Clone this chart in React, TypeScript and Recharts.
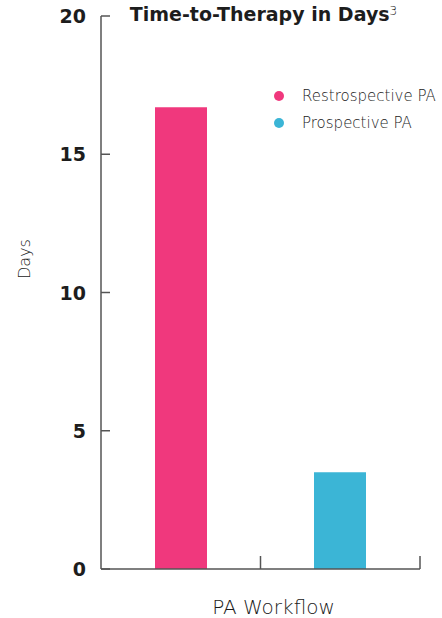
import { BarChart, Bar, XAxis, YAxis, Legend } from "recharts";

const categories = ["PA Workflow"];
const retrospective = [16.7];
const prospective = [3.5];
const yTicks = [0, 5, 10, 15, 20];

const seriesNames = { retro: "Restrospective PA", pro: "Prospective PA" };
const colors = { retro: "#F0387D", pro: "#3BB5D6" };
const legendOrder = [seriesNames.retro, seriesNames.pro];

const data = categories.map((name, i) => ({
  name,
  retro: retrospective[i],
  pro: prospective[i],
}));

const FONT = "'DejaVu Sans', sans-serif";

function YTick({ x, y, payload }: any) {
  return (
    <g>
      <text
        x={x - 15}
        y={y}
        dy={7}
        textAnchor="end"
        fontFamily={FONT}
        fontWeight={700}
        fontSize={19}
        fill="#1d1d1d"
      >
        {payload.value}
      </text>
      <line x1={x} x2={x + 9} y1={y} y2={y} stroke="#555" strokeWidth={1.5} />
    </g>
  );
}

// inward tick at the band centre and at the band's right edge
function XTick({ x, y, width, visibleTicksCount }: any) {
  const band = (Number(width) || 319) / (visibleTicksCount || 1);
  const edge = x + band / 2;
  return (
    <g>
      <line x1={x} x2={x} y1={y - 13} y2={y} stroke="#555" strokeWidth={1.5} />
      <line x1={edge} x2={edge} y1={y - 13} y2={y} stroke="#555" strokeWidth={1.5} />
    </g>
  );
}

function DaysLabel({ viewBox }: any) {
  const x = viewBox.x + 29.5;
  const y = viewBox.y + viewBox.height / 2 - 33.5;
  return (
    <text
      x={x}
      y={y}
      transform={`rotate(-90, ${x}, ${y})`}
      textAnchor="middle"
      fontFamily={FONT}
      fontWeight={200}
      fontSize={16}
      fill="#1a1a1a"
    >
      Days
    </text>
  );
}

function LegendList({ payload }: any) {
  const items = [...(payload || [])].sort(
    (a: any, b: any) => legendOrder.indexOf(a.value) - legendOrder.indexOf(b.value)
  );
  return (
    <div style={{ fontFamily: FONT, fontWeight: 200, fontSize: 15, color: "#1a1a1a" }}>
      {items.map((p: any) => (
        <div key={p.value} style={{ display: "flex", alignItems: "center", height: 26.5 }}>
          <span
            style={{
              width: 10,
              height: 10,
              borderRadius: 5,
              background: p.color,
              marginRight: 18,
              display: "inline-block",
            }}
          />
          <span>{p.value}</span>
        </div>
      ))}
    </div>
  );
}

export default function App() {
  return (
    <div style={{ position: "absolute", left: 0, top: 0, width: 442, height: 618, background: "#fff" }}>
      <div
        style={{
          position: "absolute",
          left: 101,
          width: 325,
          top: 3,
          textAlign: "center",
          fontFamily: FONT,
          fontWeight: 700,
          fontSize: 19,
          lineHeight: "22px",
          color: "#1d1d1d",
          zIndex: 2,
          whiteSpace: "nowrap",
        }}
      >
        Time-to-Therapy in Days
        <sup style={{ fontWeight: 200, fontSize: 12, verticalAlign: "6px", lineHeight: 0 }}>3</sup>
      </div>
      <BarChart
        width={442}
        height={618}
        data={data}
        margin={{ top: 16, right: 22, left: 0, bottom: 0 }}
        barGap={107}
        barSize={52}
      >
        <XAxis
          dataKey="name"
          interval={0}
          tick={<XTick />}
          tickLine={false}
          tickSize={0}
          tickMargin={0}
          height={49}
          stroke="#555"
          strokeWidth={1.5}
          label={{
            value: "PA Workflow",
            position: "insideBottom",
            offset: 4,
            dx: 13,
            fontFamily: FONT,
            fontSize: 20,
            fontWeight: 200,
            fill: "#1a1a1a",
          }}
        />
        <YAxis
          domain={[0, 20]}
          ticks={yTicks}
          interval={0}
          width={101}
          tick={<YTick />}
          tickLine={false}
          tickSize={0}
          tickMargin={0}
          stroke="#555"
          strokeWidth={1.5}
          label={<DaysLabel />}
        />
        <Legend
          layout="horizontal"
          verticalAlign="middle"
          align="center"
          content={<LegendList />}
          wrapperStyle={{ top: 83, left: 274, width: 168 }}
        />
        <Bar dataKey="retro" name={seriesNames.retro} fill={colors.retro} isAnimationActive={false} />
        <Bar dataKey="pro" name={seriesNames.pro} fill={colors.pro} isAnimationActive={false} />
      </BarChart>
    </div>
  );
}
